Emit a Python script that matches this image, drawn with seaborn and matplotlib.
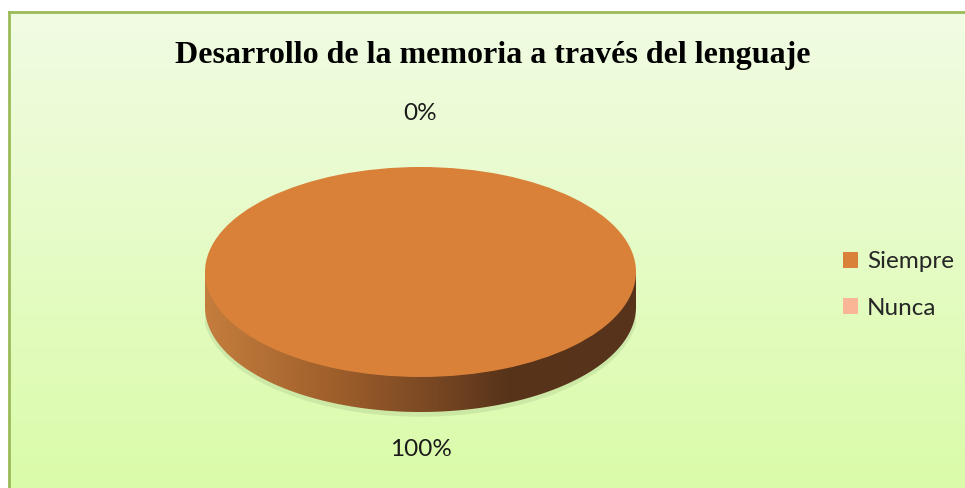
import numpy as np
import matplotlib
matplotlib.use("Agg")
import matplotlib.pyplot as plt
import seaborn as sns
from matplotlib.path import Path
from matplotlib.patches import PathPatch, Ellipse
from matplotlib.colors import LinearSegmentedColormap

# ---- data ----
categories = ["Siempre", "Nunca"]
values = [100, 0]
colors_hex = ["#D98139", "#F9B596"]
title = "Desarrollo de la memoria a través del lenguaje"

sns.set_theme(style="white")
plt.rcParams['font.family'] = ['Lato', 'DejaVu Sans']

W, H = 965, 488
fig = plt.figure(figsize=(W / 100, H / 100), dpi=100)
fig.patch.set_facecolor('white')

# ---- background frame with vertical gradient ----
bg = fig.add_axes([9 / W, -0.05, 1.0, (H - 12) / H + 0.05])
grad = np.linspace(0, 1, 256).reshape(-1, 1)
bg_cmap = LinearSegmentedColormap.from_list('bg', ['#F1FCE3', '#D9FBA6'])
bg.imshow(grad, aspect='auto', cmap=bg_cmap, extent=[0, 1, 0, 1], origin='upper')
bg.set_xticks([]); bg.set_yticks([])
for s in bg.spines.values():
    s.set_color('#9BBB59'); s.set_linewidth(2)
bg.set_zorder(0)

# ---- pie axes ----
cx, cy, rx, ry = 420.5, 272, 215.5, 105
depth = 35 / ry
ytop_px, ybot_px = 90, 470
ax = fig.add_axes([(cx - rx) / W, (H - ybot_px) / H, 2 * rx / W, (ybot_px - ytop_px) / H])
ax.set_zorder(1)
ax.patch.set_alpha(0)

# soft shadow
ax.add_patch(Ellipse((0.0, -depth - 0.02), 2.02, 2.05, facecolor='#A4C286',
                     edgecolor='none', alpha=0.3, zorder=0.5))

# side of the 3D disc, gradient-filled
ts = np.linspace(np.pi, 2 * np.pi, 200)
verts = [(-1, 0), (-1, -depth)] + [(np.cos(t), np.sin(t) - depth) for t in ts] + [(1, 0), (-1, 0)]
codes = [Path.MOVETO] + [Path.LINETO] * (len(verts) - 2) + [Path.CLOSEPOLY]
side_path = PathPatch(Path(verts, codes), facecolor='none', edgecolor='none')
ax.add_patch(side_path)
side_cmap = LinearSegmentedColormap.from_list(
    'side', [(0.0, '#C47D3D'), (0.3, '#9F5F2B'), (0.55, '#754522'), (0.7, '#58341A'), (1.0, '#56331A')])
hgrad = np.linspace(0, 1, 256).reshape(1, -1)
im = ax.imshow(hgrad, aspect='auto', cmap=side_cmap, extent=[-1, 1, -depth - 1.05, 0.05], zorder=1)
im.set_clip_path(side_path)

# top face
wedges, _ = ax.pie(values, colors=colors_hex, startangle=90, counterclock=False,
                   radius=1, center=(0, 0), wedgeprops=dict(linewidth=0))
for w in wedges:
    w.set_zorder(3)

# percentage labels
total = sum(values)
angle = 90.0
for v in values:
    span = 360.0 * v / total
    mid = np.deg2rad(angle - span / 2)
    angle -= span
    s = np.sin(mid)
    r = 1.51 if s > 0 else 1.695
    ax.text(np.cos(mid) * r, s * r, f"{v / total * 100:.0f}%", ha='center', va='center',
            fontsize=17.5, color='#1a1a1a', zorder=5)

ax.set_aspect('auto')
ax.set_xlim(-1, 1)
ax.set_ylim((cy - ybot_px) / ry, (cy - ytop_px) / ry)
ax.axis('off')

# title
fig.text(493 / W, 1 - 55 / H, title, ha='center', va='center', fontsize=23,
         fontweight='bold', family=['Liberation Serif', 'DejaVu Serif'], color='black')

# legend
fig.legend(wedges, categories, loc='center left', bbox_to_anchor=(843 / W, 1 - 285 / H),
           frameon=False, fontsize=17.5, handlelength=0.62, handleheight=0.62,
           handletextpad=0.36, labelspacing=1.05, borderpad=0, borderaxespad=0)

fig.savefig('out.png', dpi=100, facecolor='white')
